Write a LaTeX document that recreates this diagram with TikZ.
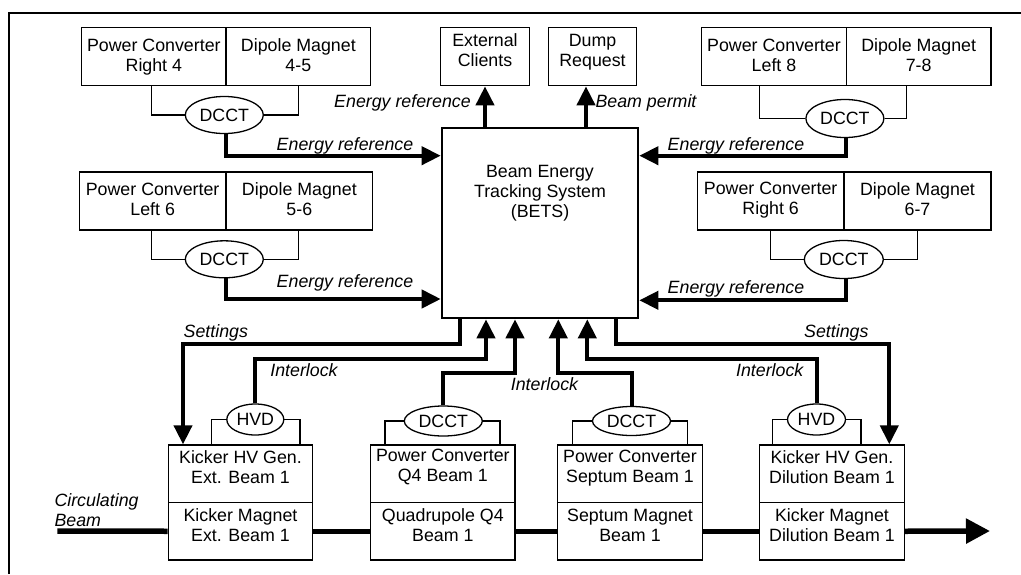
\documentclass[tikz,border=0pt]{standalone}
\usepackage{fontspec}
\setmainfont{Liberation Sans}
\usetikzlibrary{arrows.meta,shapes.geometric}
\begin{document}
\begin{tikzpicture}[x=1pt,y=-1pt,
  box/.style={draw,line width=1.3pt,inner sep=0pt,minimum height=58pt},
  lbox/.style={draw,line width=1.3pt,inner sep=0pt,minimum height=57.5pt,minimum width=144.5pt},
  txt/.style={align=center,inner sep=0pt,font=\fontsize{17.8}{20}\selectfont},
  lab/.style={inner sep=0pt,font=\fontsize{17.8}{20}\selectfont\itshape},
  ell/.style={draw,ellipse,line width=1.3pt,inner sep=0pt,font=\fontsize{17.8}{20}\selectfont},
  wire/.style={line width=1.3pt},
  sig/.style={line width=4pt,-{Triangle[length=19pt,width=18pt]}},
  sigline/.style={line width=4pt},
  beam/.style={line width=5.5pt},
  beamarrow/.style={line width=5.5pt,-{Triangle[length=24pt,width=24pt]}}]
\useasboundingbox (0,0) rectangle (1021,574);
\fill[white] (0,0) rectangle (1021,574);
% frame
\coordinate (fa) at (8.5,574);
\coordinate (fb) at (8.5,13);
\coordinate (fc) at (1021,13);
\draw[line width=2pt] (fa) -- (fb) -- (fc);

% top-left groups
\node[box,minimum width=144.3pt] (pcR4) at (153.85,56.7) {};
\node[box,minimum width=144.7pt] (dm45) at (298.35,56.7) {};
\node[txt] (tpcR4) at (153.85,57) {Power Converter\\Right 4};
\node[txt] (tdm45) at (298.35,55.3) {Dipole Magnet\\4-5};
\node[ell,minimum width=78pt,minimum height=37pt] (d1) at (224.3,115) {DCCT};

\node[box,minimum width=146.7pt] (pcL6) at (152.65,201) {};
\node[box,minimum width=146.7pt] (dm56) at (299.35,201) {};
\node[txt] (tpcL6) at (152.65,199) {Power Converter\\Left 6};
\node[txt] (tdm56) at (299.35,199) {Dipole Magnet\\5-6};
\node[ell,minimum width=78pt,minimum height=37pt] (d2) at (224.3,259.3) {DCCT};

% top-right groups
\node[box,minimum width=144.6pt] (pcL8) at (774,56.7) {};
\node[box,minimum width=144.7pt] (dm78) at (918.65,56.7) {};
\node[txt] (tpcL8) at (774,55) {Power Converter\\Left 8};
\node[txt] (tdm78) at (918.65,55) {Dipole Magnet\\7-8};
\node[ell,minimum width=78pt,minimum height=38pt] (d3) at (844.9,118.5) {DCCT};

\node[box,minimum width=146.7pt] (pcR6) at (770.65,201) {};
\node[box,minimum width=147pt] (dm67) at (917.5,201) {};
\node[txt] (tpcR6) at (770.65,200.5) {Power Converter\\Right 6};
\node[txt] (tdm67) at (917.5,199) {Dipole Magnet\\6-7};
\node[ell,minimum width=79pt,minimum height=38pt] (d4) at (843.8,259.5) {DCCT};

% center
\node[box,minimum width=88.6pt] (ec) at (485,56.7) {};
\node[txt] (tec) at (485,50) {External\\Clients};
\node[box,minimum width=88.4pt] (dr) at (592.5,56.7) {};
\node[txt] (tdr) at (592.5,51.8) {Dump\\Request};
\node[draw,line width=2pt,inner sep=0pt,minimum width=196.6pt,minimum height=190pt] (bets) at (540,223.3) {};
\node[txt] (tbets) at (540,192.8) {Beam Energy\\Tracking System\\(BETS)};

% bottom boxes
\node[lbox] (kg1) at (240.5,473.75) {};
\node[lbox] (km1) at (240.5,531.25) {};
\node[lbox] (pq4) at (442.85,473.75) {};
\node[lbox] (q4m) at (442.85,531.25) {};
\node[lbox] (ps) at (630,473.75) {};
\node[lbox] (sm) at (630,531.25) {};
\node[lbox] (kg2) at (832,473.75) {};
\node[lbox] (km2) at (832,531.25) {};
\node[txt] (tkg1) at (240.5,466.7) {Kicker HV Gen.\\Ext. Beam 1};
\node[txt] (tkm1) at (240.5,525) {Kicker Magnet\\Ext. Beam 1};
\node[txt] (tpq4) at (442.85,466.7) {Power Converter\\Q4 Beam 1};
\node[txt] (tq4m) at (442.85,525) {Quadrupole Q4\\Beam 1};
\node[txt] (tps) at (630,468) {Power Converter\\Septum Beam 1};
\node[txt] (tsm) at (630,525) {Septum Magnet\\Beam 1};
\node[txt] (tkg2) at (832,466.7) {Kicker HV Gen.\\Dilution Beam 1};
\node[txt] (tkm2) at (832,525) {Kicker Magnet\\Dilution Beam 1};

\node[ell,minimum width=57pt,minimum height=31pt] (h1) at (255.3,419.5) {HVD};
\node[ell,minimum width=78pt,minimum height=30pt] (q4d) at (443.3,421) {DCCT};
\node[ell,minimum width=78pt,minimum height=29pt] (sd) at (631.5,421) {DCCT};
\node[ell,minimum width=58pt,minimum height=31pt] (h2) at (816.5,419.5) {HVD};

% wires
\draw[wire] ([xshift=-2.15pt]pcR4.south) |- (d1.west);
\draw[wire] (dm45.south) |- (d1.east);
\draw[wire] ([xshift=-1pt]pcL6.south) |- (d2.west);
\draw[wire] ([xshift=-1pt]dm56.south) |- (d2.east);
\draw[wire] ([xshift=-14.3pt]pcL8.south) |- (d3.west);
\draw[wire] ([xshift=-12pt]dm78.south) |- (d3.east);
\draw[wire] (pcR6.south) |- (d4.west);
\draw[wire] (dm67.south) |- (d4.east);
\draw[wire] (h1.west) -| ([xshift=-29.2pt]kg1.north);
\draw[wire] (h1.east) -| ([xshift=59.5pt]kg1.north);
\draw[wire] (q4d.west) -| ([xshift=-57.85pt]pq4.north);
\draw[wire] (q4d.east) -| ([xshift=57.15pt]pq4.north);
\draw[wire] (sd.west) -| ([xshift=-57.7pt]ps.north);
\draw[wire] (sd.east) -| ([xshift=57.7pt]ps.north);
\draw[wire] (h2.west) -| ([xshift=-59.3pt]kg2.north);
\draw[wire] (h2.east) -| ([xshift=29pt]kg2.north);

% energy reference arrows
\draw[sig] ([xshift=1.7pt]d1.south) |- ([yshift=-28.4pt]bets.north west);
\draw[sig] ([xshift=1.7pt]d2.south) |- ([yshift=20.3pt]bets.south west);
\draw[sig] ([xshift=1.4pt]d3.south) |- ([yshift=-28.4pt]bets.north east);
\draw[sig] ([xshift=2.5pt]d4.south) |- ([yshift=19pt]bets.south east);
\draw[sig] (bets.north -| ec.south) -- (ec.south);
\draw[sig] ([xshift=-6.5pt]dr.south |- bets.north) -- ([xshift=-6.5pt]dr.south);

% bottom signals
\draw[sig] ([xshift=-80pt]bets.south) -- ++(0,25) -| ([xshift=-57.5pt]kg1.north);
\draw[sig] ([xshift=75.7pt]bets.south) -- ++(0,25) -| ([xshift=57.3pt]kg2.north);
\draw[sig] (h1.north) -- ++(0,-44.7) -| ([xshift=-54pt]bets.south);
\draw[sig] (q4d.north) -- ++(0,-32) -| ([xshift=-25pt]bets.south);
\draw[sig] (sd.north) -- ++(0,-32.7) -| ([xshift=18.3pt]bets.south);
\draw[sig] (h2.north) -- ++(0,-44.7) -| ([xshift=47.3pt]bets.south);

% beam
\coordinate (bs) at (57.3,531);
\coordinate (be) at (990,531);
\draw[beam] (bs) -- (km1.west);
\draw[beam] (km1.east) -- (q4m.west);
\draw[beam] (q4m.east) -- (sm.west);
\draw[beam] (sm.east) -- (km2.west);
\draw[beamarrow] (km2.east) -- (be);

% labels
\node[lab] (el1) at (345,146) {Energy reference};
\node[lab] (el2) at (345,283.3) {Energy reference};
\node[lab] (el3) at (402.5,103.3) {Energy reference};
\node[lab] (bp) at (646,103.3) {Beam permit};
\node[lab] (el4) at (736,146) {Energy reference};
\node[lab] (el5) at (736,289.3) {Energy reference};
\node[lab] (st1) at (215.8,333.3) {Settings};
\node[lab] (st2) at (836.3,333.3) {Settings};
\node[lab] (il1) at (304,370) {Interlock};
\node[lab] (il2) at (544.5,384) {Interlock};
\node[lab] (il3) at (769.7,370) {Interlock};
\node[lab,align=left,anchor=west] (cb) at (54.3,510) {Circulating\\Beam};
\end{tikzpicture}
\end{document}
